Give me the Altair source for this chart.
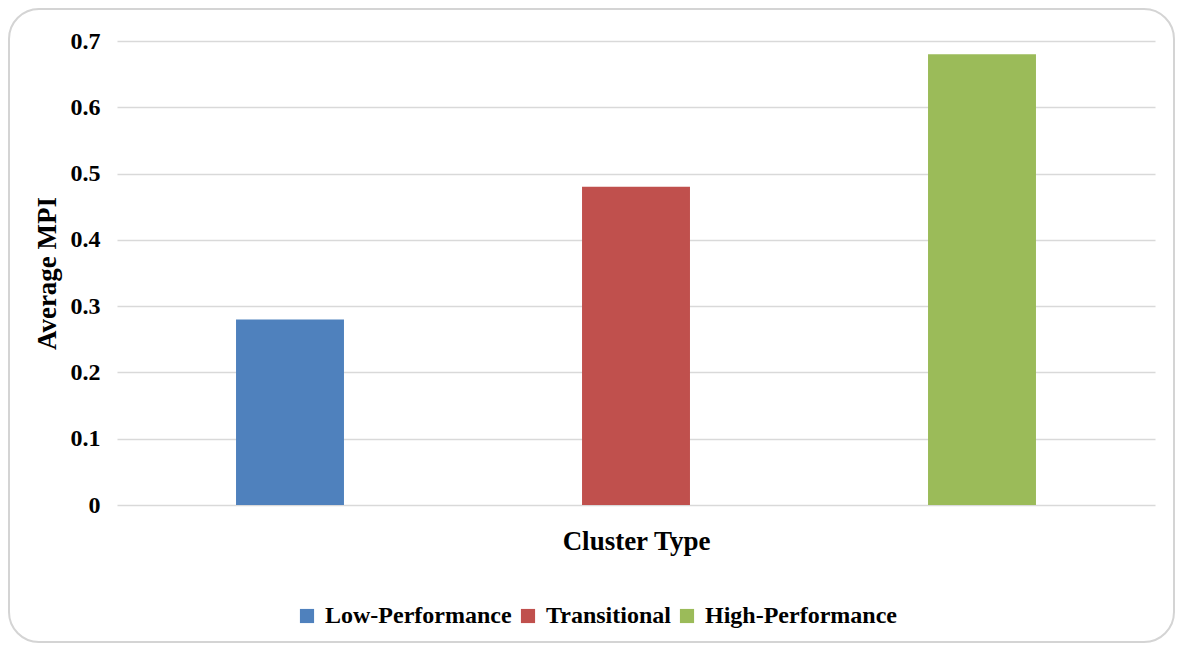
import altair as alt
import pandas as pd

clusters = ["Low-Performance", "Transitional", "High-Performance"]
mpi = [0.28, 0.48, 0.68]
colors = ["#4f81bd", "#c0504d", "#9bbb59"]
y_ticks = [0, 0.1, 0.2, 0.3, 0.4, 0.5, 0.6, 0.7]

df = pd.DataFrame({"Cluster": clusters, "MPI": mpi})

FONT = "Liberation Serif"
W, H = 1038, 464
PL, PT, PR, PB = 109, 33, 20, 138
TOTAL_W = PL + W + PR
TOTAL_H = PT + H + PB

bars = alt.Chart(df).mark_bar().encode(
    x=alt.X("Cluster:N", sort=clusters,
            scale=alt.Scale(paddingInner=0.688, paddingOuter=0.344),
            axis=alt.Axis(title="Cluster Type", labels=False, ticks=False, domain=False,
                          titleFont=FONT, titleFontSize=27, titleFontWeight="bold",
                          titleColor="#000000", titlePadding=23)),
    y=alt.Y("MPI:Q", scale=alt.Scale(domain=[0, 0.7], nice=False),
            axis=alt.Axis(title="Average MPI", values=y_ticks, format="~g",
                          domain=False, ticks=False, grid=True,
                          gridColor="#d9d9d9", gridWidth=1.5,
                          labelFont=FONT, labelFontSize=24, labelFontWeight="bold",
                          labelColor="#000000", labelPadding=17,
                          titleFont=FONT, titleFontSize=27, titleFontWeight="bold",
                          titleColor="#000000", titlePadding=9)),
    color=alt.Color("Cluster:N", sort=clusters,
                    scale=alt.Scale(domain=clusters, range=colors),
                    legend=alt.Legend(title=None, orient="none", direction="horizontal",
                                      legendX=178, legendY=563,
                                      symbolType="square", symbolSize=200,
                                      symbolStrokeWidth=0, labelLimit=0,
                                      labelFont=FONT, labelFontSize=24,
                                      labelFontWeight="bold", labelColor="#000000",
                                      labelOffset=6, columnPadding=4)),
)

frame = alt.Chart(pd.DataFrame({"f": [0]})).mark_rect(
    fill=None, stroke="#d4d4d4", strokeWidth=2, cornerRadius=30, clip=False
).encode(
    x=alt.value(-PL + 1),
    x2=alt.value(TOTAL_W - PL - 1),
    y=alt.value(-PT + 1),
    y2=alt.value(TOTAL_H - PT - 1),
)

chart = alt.layer(frame, bars).properties(
    width=W, height=H,
    autosize=alt.AutoSizeParams(type="none"),
    padding={"left": PL, "top": PT, "right": PR, "bottom": PB},
    background="#ffffff",
).configure_view(stroke=None)

chart.save("out.html", embed_options={"renderer": "svg", "actions": False})
